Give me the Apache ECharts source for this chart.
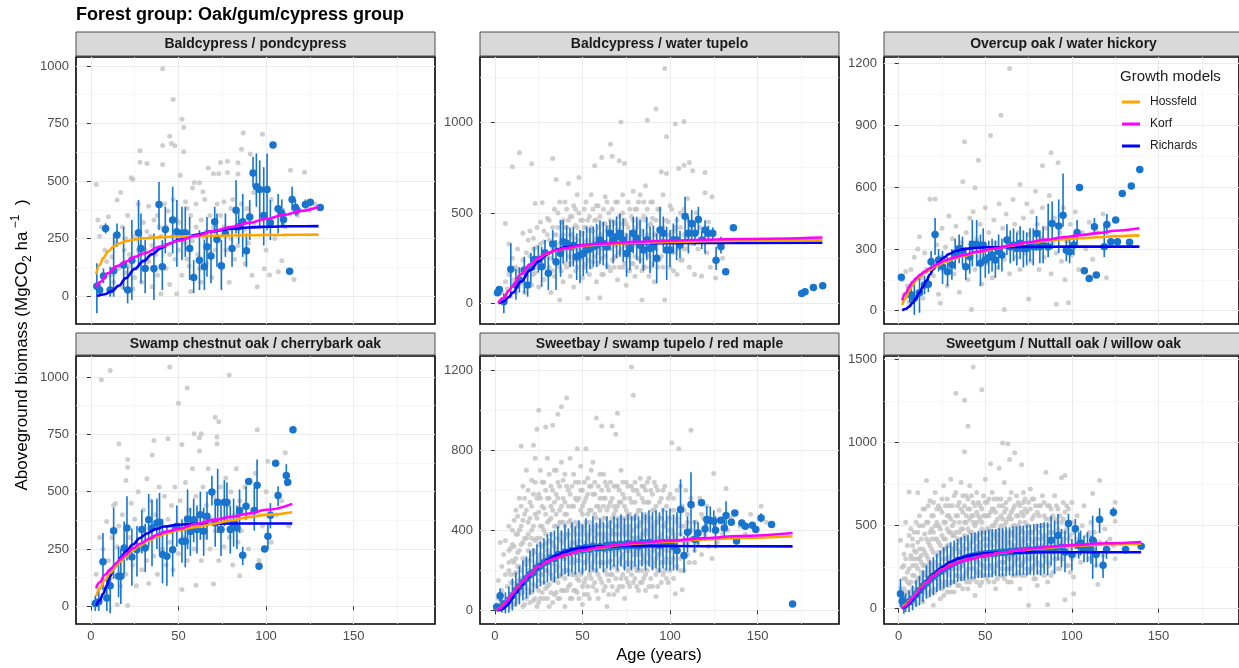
<!DOCTYPE html>
<html>
<head>
<meta charset="utf-8">
<title>Oak/gum/cypress group</title>
<script src="https://cdn.jsdelivr.net/npm/echarts@6/dist/echarts.min.js"></script>
<style>
  html, body { margin: 0; padding: 0; background: #fff; }
  #chart { width: 1239px; height: 668px; }
</style>
</head>
<body>
<div id="chart"></div>
<script>
// ---- data ----
const panelTitles = [
  'Baldcypress / pondcypress',
  'Baldcypress / water tupelo',
  'Overcup oak / water hickory',
  'Swamp chestnut oak / cherrybark oak',
  'Sweetbay / swamp tupelo / red maple',
  'Sweetgum / Nuttall oak / willow oak'
];
const modelNames = ['Hossfeld', 'Korf', 'Richards'];

const xRange = [-8.5, 196.5];
const xTicks = [0, 50, 100, 150];
const xMinor = [25, 75, 125, 175];

const yRange1 = [-121.6, 1039];  const yTicks1 = [0, 250, 500, 750, 1000]; const yMinor1 = [125, 375, 625, 875];
const yRange2 = [-114, 1362];    const yTicks2 = [0, 500, 1000];           const yMinor2 = [250, 750, 1250];
const yRange3 = [-64.5, 1232];   const yTicks3 = [0, 300, 600, 900, 1200]; const yMinor3 = [150, 450, 750, 1050];
const yRange4 = [-76.9, 1091.7]; const yTicks4 = [0, 250, 500, 750, 1000]; const yMinor4 = [125, 375, 625, 875];
const yRange5 = [-68, 1271.6];   const yTicks5 = [0, 400, 800, 1200];      const yMinor5 = [200, 600, 1000];
const yRange6 = [-92.3, 1521.7]; const yTicks6 = [0, 500, 1000, 1500];     const yMinor6 = [250, 750, 1250];

// individual plots [age, biomass]
const grey1 = [[3,485],[4,330],[5,260],[6,300],[8,200],[9,150],[10,345],[11,90],[12,170],[13,60],[14,235],[15,417],[16,120],[17,450],[18,40],[18,300],[19,200],[20,100],[21,350],[22,180],[23,514],[24,508],[24,30],[25,260],[26,120],[27,400],[28,582],[28,631],[29,60],[30,320],[31,200],[32,576],[33,150],[34,260],[35,40],[36,330],[37,180],[38,90],[39,300],[40,10],[41,988],[41,654],[41,572],[42,220],[43,120],[44,370],[45,695],[45,50],[46,663],[47,854],[47,260],[48,653],[48,160],[49,10],[50,320],[51,525],[52,768],[52,90],[53,627],[53,734],[54,230],[55,380],[56,130],[57,20],[58,470],[59,493],[60,300],[61,180],[62,492],[63,60],[64,453],[65,250],[66,140],[67,557],[68,350],[69,80],[70,532],[71,200],[72,400],[73,532],[74,580],[75,120],[76,300],[78,586],[78,537],[79,60],[80,250],[81,420],[82,160],[84,530],[84,579],[85,310],[86,638],[87,709],[88,140],[89,380],[90,230],[91,617],[92,90],[93,450],[95,40],[96,300],[98,703],[99,119],[100,200],[102,91],[103,420],[105,250],[107,106],[109,153],[111,300],[114,547],[116,72],[118,350],[122,538],[125,380],[128,400],
  [20,250],[22,130],[25,80],[27,200],[30,150],[32,280],[33,390],[35,220],[36,110],[38,350],[40,260],[42,400],[43,300],[45,180],[47,420],[49,330],[50,200],[52,280],[54,410],[55,160],[57,350],[58,240],[60,400],[62,120],[63,330],[65,420],[66,280],[68,190],[70,300],[72,260],[74,350],[76,410],[77,200],[80,380],[82,300],[84,220],[86,400],[88,290],[90,350],[93,310]];

const grey2 = [[4,60],[5,20],[6,120],[6,442],[7,80],[8,328],[8,160],[9,40],[10,755],[10,250],[11,130],[12,200],[12,60],[13,300],[14,832],[14,180],[15,110],[16,387],[16,240],[17,60],[18,280],[18,150],[19,350],[20,210],[21,772],[21,100],[22,300],[23,552],[23,170],[24,420],[25,250],[25,90],[26,330],[27,556],[27,200],[28,400],[28,130],[29,280],[30,470],[30,180],[31,350],[32,60],[32,250],[33,801],[33,420],[34,300],[34,150],[35,685],[35,380],[36,220],[36,500],[37,18],[37,330],[38,270],[38,450],[39,120],[39,380],[40,300],[40,560],[41,200],[41,420],[42,663],[42,330],[43,150],[43,480],[44,260],[44,380],[45,540],[45,90],[46,320],[46,430],[47,200],[47,600],[48,696],[48,350],[49,250],[49,460],[50,140],[50,390],[51,300],[51,520],[52,220],[52,420],[53,28],[53,350],[54,480],[54,160],[55,290],[55,600],[56,400],[56,230],[57,761],[57,340],[58,120],[58,460],[59,280],[59,540],[60,31],[60,380],[61,807],[61,250],[62,440],[62,160],[63,330],[63,590],[64,210],[64,400],[65,500],[65,300],[66,880],[66,180],[67,814],[67,360],[68,450],[68,250],[69,560],[69,320],[70,130],[70,410],[71,788],[71,280],[72,1002],[72,380],[73,200],[73,500],[74,773],[74,320],[75,440],[75,100],[76,260],[76,560],[77,360],[77,180],[78,480],[78,300],[79,220],[79,620],[80,400],[80,150],[81,330],[81,520],[82,250],[82,440],[83,380],[83,600],[84,18],[84,300],[85,480],[85,200],[86,350],[86,650],[87,1013],[87,270],[88,430],[88,150],[89,340],[89,560],[90,220],[90,470],[91,380],[91,120],[92,1074],[92,300],[93,520],[93,200],[94,400],[95,727],[95,260],[96,350],[96,600],[97,1298],[97,18],[98,921],[98,718],[98,300],[99,450],[100,200],[100,380],[101,520],[102,280],[103,991],[103,420],[104,160],[105,746],[105,330],[106,500],[107,240],[108,1006],[108,764],[108,380],[109,300],[110,580],[111,779],[111,200],[112,420],[113,733],[113,330],[114,160],[115,500],[116,300],[117,420],[118,150],[119,350],[120,724],[120,611],[121,280],[122,450],[123,200],[124,589],[125,380],[126,140],[128,320],[130,250]];
const grey2b = [[20,260],[20,400],[22,160],[22,360],[24,310],[24,200],[26,450],[26,260],[28,200],[28,340],[30,380],[30,260],[31,200],[31,460],[33,300],[33,180],[34,520],[34,380],[36,300],[36,420],[37,200],[37,560],[38,360],[38,180],[39,460],[39,300],[40,220],[40,420],[41,340],[41,520],[42,260],[42,460],[43,380],[43,220],[44,480],[44,300],[45,360],[45,240],[46,520],[46,180],[47,300],[47,420],[48,240],[48,500],[49,380],[49,300],[50,460],[50,260],[51,200],[51,420],[52,340],[52,560],[53,460],[53,240],[54,300],[54,400],[55,420],[55,200],[56,520],[56,330],[57,260],[57,460],[58,360],[58,540],[59,420],[59,220],[60,300],[60,480],[61,380],[61,160],[62,520],[62,300],[63,260],[63,440],[64,340],[64,560],[65,200],[65,420],[66,460],[66,300],[67,240],[67,520],[68,380],[68,200],[69,440],[69,260],[70,340],[70,560],[71,480],[71,200],[72,300],[72,440],[73,360],[73,600],[74,220],[74,460],[75,380],[75,280],[76,420],[76,180],[77,300],[77,520],[78,380],[78,220],[79,460],[79,320],[80,260],[80,520],[81,420],[81,200],[82,340],[82,560],[83,240],[83,460],[84,400],[84,180],[85,320],[85,560],[86,460],[86,200],[87,380],[87,520],[88,260],[88,360],[89,440],[89,200],[90,320],[90,560],[92,380],[92,460],[94,240],[94,520],[96,420],[96,200],[98,460],[98,380],[100,540],[100,300],[102,400],[102,180],[104,460],[104,300],[106,240],[106,420],[108,520],[108,300],[110,360],[110,460]];

const grey3 = [[2,150],[3,80],[4,190],[5,120],[6,40],[7,200],[8,130],[9,260],[10,90],[11,300],[12,359],[13,160],[14,60],[15,280],[16,200],[17,120],[18,541],[19,250],[20,170],[21,542],[22,320],[23,80],[24,36],[24,260],[25,400],[26,190],[27,310],[28,120],[29,460],[30,240],[31,350],[32,180],[33,410],[34,280],[35,90],[36,330],[37,626],[38,820],[38,220],[39,380],[40,150],[41,450],[42,6],[42,300],[43,480],[44,597],[44,200],[45,350],[46,731],[46,260],[47,420],[48,130],[49,320],[50,500],[51,230],[52,380],[53,851],[53,280],[54,160],[55,440],[56,330],[57,210],[58,520],[59,949],[59,300],[60,400],[61,6],[61,250],[62,470],[63,350],[64,1176],[64,180],[65,300],[66,540],[67,420],[68,260],[69,380],[70,613],[70,200],[71,330],[72,450],[73,280],[74,520],[75,57],[75,370],[76,240],[77,480],[78,310],[79,580],[80,420],[81,200],[82,350],[83,704],[83,500],[84,260],[85,400],[86,300],[87,560],[88,767],[88,180],[89,330],[90,450],[91,32],[91,280],[92,718],[93,380],[94,240],[95,500],[96,150],[97,340],[98,39],[99,420],[100,270],[102,480],[104,200],[106,380],[108,300],[110,430],[112,250],[115,380],[118,470],[120,160]];

const grey4 = [[3,140],[4,80],[5,300],[6,988],[7,250],[8,60],[9,370],[10,200],[11,1029],[11,120],[12,300],[13,440],[14,448],[14,180],[15,7],[15,260],[16,709],[16,350],[17,90],[18,400],[19,220],[20,549],[20,140],[21,640],[21,607],[21,4],[22,300],[23,450],[24,180],[25,380],[26,90],[27,500],[28,260],[29,160],[30,420],[31,340],[32,556],[32,200],[33,100],[34,460],[35,660],[35,300],[36,723],[36,220],[37,400],[38,140],[39,520],[40,320],[41,250],[42,480],[43,180],[44,731],[44,380],[45,1044],[45,280],[46,440],[47,160],[48,520],[49,350],[50,886],[50,230],[51,460],[52,706],[52,73],[53,300],[54,540],[55,952],[55,200],[56,420],[57,320],[58,600],[59,753],[59,250],[60,92],[60,480],[61,380],[62,677],[62,735],[63,753],[63,200],[64,520],[65,300],[66,440],[67,600],[68,250],[69,380],[70,97],[70,480],[71,825],[71,330],[72,738],[72,709],[73,805],[73,200],[74,520],[75,380],[76,260],[77,560],[78,440],[79,1009],[79,300],[80,500],[81,180],[82,400],[83,600],[84,280],[85,134],[85,460],[86,330],[88,520],[90,250],[92,420],[94,580],[95,770],[96,200],[98,350],[100,500],[101,633],[103,280],[106,400],[109,460],[111,670],[113,350]];

const grey5 = [[1,30],[2,150],[2,60],[3,340],[3,10],[4,220],[4,100],[5,280],[5,40],[6,180],[6,350],[7,120],[7,60],[8,300],[8,200],[9,20],[9,140],[10,250],[10,400],[10,80],
  [11,180],[11,320],[11,30],[12,500],[12,260],[12,120],[13,380],[13,60],[13,220],[14,560],[14,300],[14,150],[15,821],[15,200],[15,420],[15,90],[16,620],[16,340],[16,20],[17,250],[17,480],[17,140],[18,360],[18,700],[18,60],[19,200],[19,440],[19,300],[20,540],[20,100],[20,250],
  [21,400],[21,180],[21,650],[22,825],[22,300],[22,50],[23,480],[23,220],[23,760],[24,905],[24,360],[24,120],[25,1000],[25,580],[25,260],[25,40],[26,420],[26,700],[26,180],[27,320],[27,520],[27,90],[28,640],[28,260],[28,400],[29,917],[29,200],[29,480],[30,340],[30,560],[30,120],[30,760],
  [31,280],[31,450],[31,20],[32,620],[32,380],[32,180],[33,925],[33,500],[33,260],[34,700],[34,320],[34,80],[35,420],[35,580],[35,200],[36,980],[36,360],[36,140],[36,640],[37,500],[37,270],[37,60],[38,1018],[38,440],[38,180],[38,740],[39,340],[39,560],[39,100],[40,480],[40,260],[40,680],[40,20],
  [41,1062],[41,380],[41,200],[42,600],[42,300],[42,120],[43,450],[43,760],[43,240],[44,520],[44,340],[44,60],[45,680],[45,400],[45,180],[46,300],[46,560],[46,100],[47,808],[47,420],[47,250],[48,640],[48,350],[48,150],[49,500],[49,280],[49,720],[50,400],[50,200],[50,600],[50,30],
  [51,320],[51,540],[51,140],[52,808],[52,440],[52,240],[53,660],[53,360],[53,80],[54,500],[54,280],[54,180],[55,620],[55,400],[55,220],[56,740],[56,340],[56,120],[57,480],[57,260],[57,580],[58,962],[58,380],[58,200],[59,520],[59,300],[59,60],[60,680],[60,420],[60,160],
  [61,922],[61,340],[61,240],[62,560],[62,460],[62,100],[63,380],[63,640],[63,200],[64,500],[64,300],[64,20],[65,600],[65,420],[65,150],[66,340],[66,540],[66,250],[67,922],[67,460],[67,180],[68,620],[68,380],[68,80],[69,880],[69,500],[69,280],[70,985],[70,420],[70,200],[70,620],
  [71,340],[71,540],[71,120],[72,460],[72,260],[72,700],[73,400],[73,580],[73,180],[74,320],[74,520],[74,60],[75,640],[75,380],[75,240],[76,480],[76,300],[76,140],[77,560],[77,420],[77,220],[78,1217],[78,360],[78,620],[79,1075],[79,460],[79,280],[80,540],[80,340],[80,160],
  [81,420],[81,600],[81,200],[82,360],[82,500],[82,100],[83,660],[83,300],[83,240],[84,440],[84,560],[84,140],[85,380],[85,620],[85,260],[86,480],[86,320],[86,180],[87,540],[87,400],[88,660],[88,280],[88,120],[89,460],[89,340],[90,580],[90,220],[90,400],
  [91,500],[91,300],[92,70],[92,440],[92,620],[93,360],[93,200],[94,540],[94,280],[95,460],[95,380],[95,140],[96,600],[96,320],[97,420],[97,240],[98,520],[98,160],[99,360],[99,460],[100,300],[100,580],[100,200],
  [101,838],[101,400],[102,260],[102,500],[103,83],[103,360],[104,440],[104,600],[105,808],[105,300],[106,380],[106,200],[107,520],[107,103],[108,420],[108,280],[109,600],[110,340],[110,480],[111,240],[112,900],[112,400],[113,520],[114,300],[115,440],[116,360],[117,560],[118,280],[119,460],[120,380],
  [121,520],[122,320],[123,440],[124,260],[125,684],[126,400],[127,340],[128,500],[129,440],[130,380],[132,609],[133,400],[135,460],[137,360],[140,420],[143,380],[146,480],[149,400],[152,521],[155,440]];
const grey5b = [[8,60],[8,240],[8,420],[9,310],[9,180],[10,140],[10,330],[10,30],[11,240],[11,450],[11,90],[12,40],[12,380],[12,190],[13,290],[13,470],[13,130],[14,220],[14,80],[14,400],[15,330],[15,160],[15,520],[16,90],[16,260],[16,450],[17,360],[17,30],[17,560],[18,230],[18,500],[18,110],[19,80],[19,380],[19,250],[19,600],[20,330],[20,170],[20,460],[20,40],
  [21,280],[21,520],[21,90],[21,360],[22,200],[22,420],[22,130],[22,580],[23,350],[23,60],[23,290],[23,640],[24,240],[24,460],[24,20],[24,560],[25,330],[25,150],[25,490],[25,100],[26,280],[26,560],[26,60],[26,360],[27,180],[27,420],[27,640],[27,250],[28,330],[28,140],[28,510],[28,60],[29,380],[29,270],[29,600],[29,110],[30,200],[30,440],[30,60],[30,300],
  [31,350],[31,560],[31,130],[31,680],[32,260],[32,460],[32,90],[32,520],[33,340],[33,150],[33,600],[33,40],[34,420],[34,230],[34,540],[34,160],[35,310],[35,480],[35,90],[35,700],[36,220],[36,420],[36,560],[36,60],[37,350],[37,170],[37,620],[37,440],[38,280],[38,520],[38,100],[38,380],[39,440],[39,200],[39,650],[39,260],[40,360],[40,160],[40,540],[40,420],
  [41,280],[41,480],[41,100],[41,620],[42,380],[42,200],[42,520],[42,440],[43,320],[43,580],[43,130],[43,60],[44,420],[44,260],[44,620],[44,180],[45,340],[45,520],[45,100],[45,240],[46,440],[46,180],[46,640],[46,380],[47,330],[47,550],[47,90],[47,160],[48,430],[48,250],[48,560],[48,60],[49,380],[49,180],[49,600],[49,420],[50,300],[50,480],[50,120],[50,520],
  [51,420],[51,240],[51,640],[51,80],[52,340],[52,560],[52,160],[52,380],[53,260],[53,480],[53,120],[53,580],[54,380],[54,620],[54,60],[54,440],[55,300],[55,500],[55,160],[55,700],[56,420],[56,240],[56,580],[56,200],[57,360],[57,140],[57,640],[57,400],[58,280],[58,520],[58,100],[58,460],[59,420],[59,180],[59,620],[59,380],[60,320],[60,500],[60,240],[60,560],
  [61,440],[61,140],[61,600],[61,380],[62,360],[62,240],[62,520],[62,680],[63,300],[63,460],[63,120],[63,560],[64,420],[64,180],[64,620],[64,360],[65,340],[65,520],[65,240],[65,80],[66,440],[66,180],[66,640],[66,380],[67,300],[67,560],[67,120],[67,400],[68,480],[68,220],[68,520],[68,320],[69,380],[69,160],[69,620],[69,420],[70,300],[70,520],[70,100],[70,460],
  [71,420],[71,240],[71,600],[71,380],[72,340],[72,540],[72,160],[72,440],[73,280],[73,460],[73,640],[73,120],[74,420],[74,220],[74,560],[74,380],[75,300],[75,500],[75,160],[75,460],[76,400],[76,200],[76,620],[76,340],[77,300],[77,480],[77,120],[77,380],[78,460],[78,240],[78,540],[78,180],[79,360],[79,600],[79,140],[79,400],[80,300],[80,460],[80,220],[80,640],
  [81,480],[81,280],[81,120],[81,360],[82,420],[82,580],[82,200],[82,300],[83,360],[83,500],[83,140],[83,440],[84,280],[84,620],[84,200],[84,380],[85,460],[85,160],[85,540],[85,320],[86,400],[86,600],[86,240],[86,100],[87,300],[87,460],[87,200],[87,640],[88,380],[88,540],[88,240],[88,440],[89,260],[89,600],[89,160],[89,420],[90,360],[90,500],[90,120],[90,300],
  [91,420],[91,240],[91,640],[91,380],[92,320],[92,520],[92,180],[92,260],[93,440],[93,600],[93,280],[93,120],[94,360],[94,460],[94,200],[95,300],[95,560],[95,240],[96,420],[96,180],[96,500],[97,340],[97,620],[97,200],[98,300],[98,440],[98,260],[99,400],[99,560],[99,140],[100,340],[100,460],[100,240],
  [102,380],[102,160],[102,560],[104,300],[104,460],[104,220],[106,420],[106,260],[106,620],[108,340],[108,500],[108,200],[110,440],[110,280],[112,360],[112,560],[114,240],[114,440],[116,340],[118,480]];

const grey6 = [[1,412],[1,120],[2,250],[2,40],[3,180],[3,330],[4,90],[4,520],[5,220],[5,20],[6,702],[6,150],[7,300],[7,60],[8,420],[8,200],[9,100],[9,350],[10,260],[10,30],
  [11,698],[11,180],[11,400],[12,80],[12,300],[12,500],[13,220],[13,140],[14,600],[14,360],[14,40],[15,260],[15,450],[15,120],[16,772],[16,320],[16,200],[17,520],[17,80],[17,400],[18,280],[18,650],[18,160],[19,360],[19,480],[19,100],[20,240],[20,560],[20,20],
  [21,420],[21,180],[21,700],[22,320],[22,520],[22,120],[23,260],[23,620],[23,400],[24,160],[24,480],[24,60],[25,340],[25,580],[25,220],[26,740],[26,420],[26,140],[27,300],[27,520],[27,240],[28,660],[28,380],[28,100],[29,460],[29,200],[29,560],[30,320],[30,780],[30,160],
  [31,440],[31,260],[31,620],[32,360],[32,520],[32,100],[33,1297],[33,280],[33,700],[34,420],[34,200],[34,560],[35,340],[35,640],[35,140],[36,480],[36,260],[36,760],[37,380],[37,180],[37,580],[38,1255],[38,945],[38,440],[38,300],[39,520],[39,220],[39,680],[40,1098],[40,360],[40,120],[40,600],
  [41,460],[41,280],[41,740],[42,400],[42,180],[42,560],[43,1456],[43,320],[43,640],[44,500],[44,240],[44,80],[45,420],[45,700],[45,300],[46,560],[46,200],[46,380],[47,460],[47,620],[47,140],[48,1319],[48,340],[48,520],[49,260],[49,680],[49,420],[50,380],[50,560],[50,200],[50,780],
  [51,300],[51,480],[51,640],[52,420],[52,160],[52,560],[53,873],[53,340],[53,260],[54,500],[54,700],[54,380],[55,220],[55,600],[55,440],[56,320],[56,520],[56,120],[57,660],[57,400],[57,260],[58,846],[58,480],[58,340],[59,560],[59,200],[59,420],[60,997],[60,360],[60,620],[60,280],
  [61,440],[61,760],[61,180],[62,520],[62,320],[62,640],[63,991],[63,400],[63,240],[64,899],[64,560],[64,300],[65,460],[65,700],[65,160],[66,380],[66,600],[66,260],[67,939],[67,500],[67,340],[68,420],[68,680],[68,200],[69,560],[69,300],[69,440],[70,380],[70,620],[70,120],
  [71,867],[71,480],[71,260],[72,560],[72,340],[72,700],[73,420],[73,200],[73,600],[74,500],[74,300],[75,20],[75,640],[75,380],[76,460],[76,240],[76,720],[77,540],[77,320],[78,400],[78,660],[78,180],[79,480],[79,300],[80,580],[80,420],[80,140],
  [81,360],[81,620],[82,500],[82,260],[83,440],[83,680],[84,320],[84,560],[85,400],[85,822],[86,24],[86,500],[86,280],[87,620],[87,380],[88,460],[88,200],[89,560],[89,340],[90,420],[90,680],
  [91,300],[91,520],[92,380],[92,600],[93,460],[93,240],[94,788],[94,400],[95,540],[95,300],[96,802],[96,54],[96,460],[97,360],[97,620],[98,420],[98,260],[99,520],[100,380],[100,640],
  [101,90],[101,191],[101,460],[102,320],[103,560],[104,400],[105,280],[106,500],[107,620],[108,360],[109,440],[110,300],[111,520],[112,694],[112,380],[113,460],[114,260],[115,145],[115,540],[116,772],[116,400],[118,320],[119,480],[120,360],[122,420],[124,380],[125,641],[125,527],[125,300]];
const grey6b = [[3,120],[3,60],[3,260],[4,180],[4,300],[4,40],[5,100],[5,380],[5,160],[6,240],[6,60],[6,440],[7,160],[7,320],[7,100],[7,480],[8,260],[8,120],[8,380],[8,40],[9,200],[9,460],[9,300],[9,80],[10,160],[10,340],[10,520],[10,100],
  [11,240],[11,80],[11,460],[11,300],[12,360],[12,180],[12,560],[12,120],[13,280],[13,420],[13,60],[13,320],[14,200],[14,500],[14,160],[14,260],[15,340],[15,100],[15,600],[15,220],[16,420],[16,260],[16,140],[16,520],[17,300],[17,180],[17,620],[17,240],[18,380],[18,100],[18,460],[18,220],[19,260],[19,560],[19,160],[19,420],[20,340],[20,120],[20,460],[20,640],
  [21,280],[21,500],[21,220],[21,100],[22,420],[22,200],[22,600],[22,260],[23,340],[23,140],[23,500],[23,180],[24,260],[24,600],[24,380],[24,220],[25,440],[25,120],[25,300],[25,660],[26,360],[26,240],[26,520],[26,80],[27,420],[27,160],[27,620],[27,360],[28,300],[28,480],[28,220],[28,560],[29,380],[29,140],[29,620],[29,300],[30,460],[30,240],[30,540],[30,100],
  [31,360],[31,160],[31,500],[31,340],[32,440],[32,240],[32,680],[32,160],[33,380],[33,560],[33,200],[33,460],[34,300],[34,620],[34,140],[34,360],[35,460],[35,240],[35,520],[35,400],[36,340],[36,180],[36,600],[36,420],[37,480],[37,260],[37,680],[37,120],[38,360],[38,520],[38,200],[38,620],[39,420],[39,300],[39,160],[39,560],[40,480],[40,240],[40,660],[40,320],
  [41,380],[41,540],[41,160],[41,600],[42,300],[42,460],[42,240],[42,680],[43,420],[43,180],[43,520],[43,560],[44,360],[44,620],[44,300],[44,440],[45,520],[45,220],[45,580],[45,160],[46,440],[46,280],[46,640],[46,320],[47,360],[47,540],[47,220],[47,400],[48,480],[48,160],[48,600],[48,260],[49,340],[49,560],[49,200],[49,460],[50,460],[50,300],[50,640],[50,240],
  [51,380],[51,560],[51,180],[51,420],[52,480],[52,260],[52,660],[52,340],[53,400],[53,580],[53,200],[53,460],[54,320],[54,600],[54,240],[54,440],[55,500],[55,340],[55,660],[55,160],[56,420],[56,260],[56,580],[56,460],[57,340],[57,540],[57,180],[57,440],[58,440],[58,280],[58,620],[58,380],[59,360],[59,500],[59,240],[59,660],[60,460],[60,200],[60,540],[60,400],
  [61,340],[61,580],[61,280],[61,500],[62,420],[62,240],[62,600],[62,380],[63,340],[63,540],[63,160],[63,460],[64,440],[64,300],[64,660],[64,400],[65,360],[65,540],[65,240],[65,580],[66,460],[66,200],[66,500],[66,320],[67,380],[67,620],[67,280],[67,440],[68,480],[68,300],[68,560],[68,360],[69,400],[69,640],[69,220],[69,500],[70,340],[70,520],[70,260],[70,460],
  [71,420],[71,580],[71,200],[71,340],[72,460],[72,280],[72,640],[72,400],[73,360],[73,520],[73,300],[73,660],[74,440],[74,240],[74,580],[74,380],[75,340],[75,500],[75,220],[75,460],[76,420],[76,600],[76,300],[77,460],[77,240],[77,660],[78,340],[78,560],[78,260],[79,420],[79,620],[79,180],[80,380],[80,500],[80,280],
  [81,460],[81,220],[81,560],[82,340],[82,420],[82,620],[83,500],[83,260],[83,380],[84,420],[84,640],[84,200],[85,300],[85,540],[85,440],[86,380],[86,620],[86,160],[87,460],[87,260],[87,540],[88,340],[88,600],[88,400],[89,460],[89,220],[90,300],[90,540],[91,400],[91,620],[92,480],[92,240],[93,360],[93,560],[94,520],[94,300],[95,420],[95,640],[96,340],[96,580],[97,480],[97,260],[98,360],[98,600],[99,440],[99,220],[100,520],[100,300],[103,420],[106,360],[110,460]];

// age-class means [age, mean, low, high]
const mean1 = [[3.4,43,-75,142],[5,26,0,55],[7.2,87,55,120],[8.4,294,272,316],[11,26,-3,127],[13,110,-3,272],[14.9,265,214,315],[18.7,135,26,301],[21,26,-32,127],[23.4,156,-17,330],[27.2,275,127,417],[28.6,207,55,359],[31,120,12,243],[36,120,-17,272],[38.9,398,287,496],[40.8,127,26,243],[42.5,289,185,388],[46.7,330,185,475],[49.1,279,127,417],[52,272,156,388],[53.9,275,170,388],[56.4,207,70,344],[58.7,80,12,156],[62,156,26,286],[64.8,127,26,243],[66.3,214,84,344],[68.6,174,55,286],[70.7,323,272,388],[72,246,127,359],[74.5,132,26,243],[76.8,272,170,359],[80.6,207,127,286],[82.9,373,272,503],[84.4,301,228,373],[86.7,323,170,444],[88.8,197,127,272],[90.7,344,243,417],[92.6,535,475,605],[94.5,475,388,620],[96.4,463,301,590],[98.7,350,220,560],[100.6,463,286,620],[102.5,318,243,417],[104,656,656,656],[106.9,379,272,444],[109,359,300,420],[110,333,300,380],[113.5,108,108,108],[114.9,420,373,475],[116.8,385,350,420],[117.7,373,350,400],[122.5,398,380,420],[125.3,408,395,420],[131,385,385,385]];

const mean2 = [[1.5,59,59,59],[2.5,77,77,77],[5.1,9,-55,55],[9.1,188,37,332],[12,100,20,190],[14,130,60,200],[16.8,184,55,258],[18.7,101,37,166],[20.5,200,110,280],[22.5,243,184,313],[24.8,243,170,320],[26.7,202,92,313],[28.6,280,203,350],[30.5,166,74,258],[33,328,240,405],[34.9,230,74,350],[37.5,276,147,460],[39,341,221,460],[41,331,230,430],[42.9,313,200,420],[44.8,322,203,424],[46.7,258,129,387],[48.6,267,111,405],[50.5,276,150,400],[52.4,295,166,424],[54.3,304,190,420],[56.2,313,203,424],[58.1,322,200,440],[60,350,221,460],[61.9,331,210,450],[63.8,313,190,430],[65.7,387,295,460],[67.6,350,221,460],[69.5,368,250,480],[71.4,387,258,497],[73.3,350,230,470],[75.2,276,147,387],[77.1,304,184,405],[79,387,276,479],[81,359,239,479],[82.9,322,221,460],[84.8,295,180,410],[86.7,350,239,479],[88.6,304,166,424],[90.5,313,200,430],[92.4,249,111,387],[94.3,405,331,534],[96.2,387,280,480],[98.1,295,129,424],[100,295,203,405],[101.9,350,276,442],[103.8,350,239,479],[105.7,322,250,400],[108.6,482,350,590],[110.5,387,276,479],[112.4,442,350,516],[114.3,387,320,450],[116.2,464,387,534],[118.1,350,300,400],[120,405,276,460],[121.9,387,340,430],[124.4,387,350,420],[126.3,239,184,313],[129.1,313,276,368],[131.8,175,175,175],[136.2,418,418,418],[175.2,55,55,55],[177.1,64,64,64],[181.9,88,88,88],[187.2,98,98,98]];

const mean3 = [[1.5,162,162,162],[6.3,80,40,130],[7.2,76,30,120],[9,60,-20,140],[12,87,-10,180],[14.9,125,80,170],[17.1,129,90,170],[18.7,238,180,290],[21,370,270,450],[23,246,190,300],[25.3,213,130,290],[28.2,189,120,260],[30.7,222,150,300],[32.6,278,200,350],[34.9,302,230,370],[36.8,291,220,360],[38.7,213,150,310],[41,262,180,340],[42.5,323,215,440],[45,323,215,440],[47.2,230,120,370],[48.8,319,240,400],[50,246,160,330],[52,259,180,340],[53.9,270,190,350],[55.8,246,160,340],[57.7,286,200,370],[59.6,270,190,350],[62.5,343,270,420],[64.4,311,230,390],[66.3,319,240,400],[68.2,302,220,380],[70.1,327,250,410],[72,302,210,390],[73.9,302,220,380],[75.8,319,240,400],[77.7,311,220,400],[79.6,375,290,460],[81.5,311,230,390],[83.4,319,230,410],[86.3,311,260,520],[88.6,424,300,530],[92.4,411,280,540],[94.9,464,408,666],[96.8,294,240,350],[98.7,286,230,350],[101.1,319,270,370],[103,380,320,440],[104.4,598,598,598],[107.2,194,194,194],[110,157,157,157],[113,408,370,450],[114.1,173,173,173],[118.7,311,260,420],[120.2,419,370,470],[122.5,335,335,335],[125.3,440,440,440],[126.3,335,335,335],[129.1,569,569,569],[133.3,332,332,332],[134.3,606,606,606],[139.2,686,686,686]];

const mean4 = [[2.5,12,-20,45],[4.5,20,-20,70],[6.9,194,70,320],[9.1,36,-20,120],[11,90,-30,170],[13,330,120,430],[15.8,131,40,260],[17.1,131,10,250],[19,255,140,370],[20.6,342,200,480],[23.4,215,90,340],[26.3,247,130,350],[29.1,335,230,420],[31,255,150,360],[33,378,260,490],[34.9,342,175,465],[37.7,364,250,470],[39.2,367,233,495],[40.9,226,100,380],[43.4,218,90,350],[46.7,247,130,350],[49.1,349,260,440],[52,284,190,380],[53.9,284,170,390],[55.2,381,250,510],[56.8,327,220,430],[58.7,378,280,470],[60.6,335,230,440],[62.5,400,290,500],[64.4,327,220,430],[66.3,393,290,500],[69.1,499,440,570],[71,364,260,470],[72.4,454,320,600],[74.3,335,220,450],[76.2,454,350,550],[77.7,454,363,540],[79.6,335,230,440],[81.5,364,260,470],[83.4,342,250,440],[84.9,418,320,510],[86.7,223,180,260],[88.6,437,378,524],[90.1,544,544,544],[93.3,418,330,520],[94.9,528,407,640],[96,175,175,175],[99.2,250,250,250],[101.1,306,250,360],[102.5,397,340,450],[105.5,624,624,624],[106.9,483,436,524],[111.6,571,524,620],[112.4,541,541,541],[115.4,770,770,770]];

const mean5 = [[1,17,17,17],[3,73,40,110],[4,20,-10,60],[6,35,-15,90],[8,50,-10,120],[10,75,0,160],[12,100,20,190],[14,118,30,220],[16,140,50,250],[18,160,60,270],[20,178,80,300],[22,190,90,310],[24,212,110,330],[26,222,120,345],[28,238,130,360],[30,246,140,380],[32,262,150,390],[34,260,140,400],[36,280,160,420],[38,278,170,400],[40,292,180,430],[42,288,170,410],[44,300,190,440],[46,296,180,420],[48,310,190,450],[50,302,180,430],[52,315,200,460],[54,306,190,430],[56,320,200,470],[58,312,190,440],[60,318,210,460],[62,312,190,440],[64,326,210,470],[66,316,200,450],[68,328,220,470],[70,318,200,460],[72,330,220,480],[74,322,200,460],[76,334,220,480],[78,325,200,470],[80,332,220,480],[82,322,200,470],[84,338,220,490],[86,328,200,480],[88,340,220,500],[90,330,200,490],[92,336,210,500],[94,326,190,490],[96,340,210,510],[98,332,200,500],[100,338,200,510],[102,320,200,480],[104,299,200,490],[106,504,370,655],[108,274,190,370],[110,391,290,470],[112,529,385,690],[114,354,290,450],[116,387,330,440],[118,538,538,538],[120,407,350,470],[121,454,400,520],[123,449,390,520],[125,446,400,500],[126,401,310,470],[129,451,451,451],[131,412,370,455],[132,474,420,545],[135,441,441,441],[137,487,487,487],[138,347,330,365],[141,437,437,437],[143,421,421,421],[147,426,426,426],[149,404,404,404],[152,462,440,485],[158,429,429,429],[170,32,32,32]];

const mean6 = [[1,90,10,180],[2,45,0,100],[3,20,-30,80],[4,30,-20,90],[6,40,-20,110],[8,60,-10,140],[10,85,10,170],[12,110,20,200],[14,135,40,230],[16,155,60,260],[18,178,70,290],[20,196,80,310],[22,212,100,330],[24,226,110,350],[26,242,120,370],[28,254,130,380],[30,268,140,400],[32,276,150,410],[34,288,160,420],[36,294,165,430],[38,304,170,440],[40,308,175,445],[42,316,180,455],[44,318,180,460],[46,324,185,465],[48,326,185,470],[50,330,190,470],[52,332,190,475],[54,334,190,480],[56,336,195,480],[58,338,195,485],[60,340,195,485],[62,340,195,490],[64,344,200,490],[66,342,195,495],[68,348,200,495],[70,346,200,500],[72,350,205,500],[74,348,200,505],[76,354,205,505],[78,352,200,510],[80,356,205,510],[82,354,200,515],[84,360,210,520],[86,356,200,520],[88,412,260,560],[90,362,210,530],[92,440,290,570],[94,370,250,480],[96,340,220,470],[98,513,380,570],[100,326,230,420],[102,481,360,540],[104,380,300,460],[105,396,320,470],[107,356,280,440],[109,370,280,460],[111,356,270,440],[112,412,180,560],[114,326,250,420],[116,537,455,605],[118,261,185,330],[120,356,300,410],[124,581,555,610],[131,356,330,375],[140,376,376,376]];

// fitted curves [age, biomass]
const hoss1 = [[3,95],[5,135],[7,165],[10,195],[13,215],[16,228],[20,238],[25,246],[30,251],[40,256],[50,259],[70,262],[90,264],[110,266],[130,267]];
const korf1 = [[3,40],[5,60],[10,100],[15,130],[20,150],[25,170],[30,185],[40,215],[50,240],[60,262],[70,282],[80,300],[90,318],[100,335],[110,352],[120,370],[130,388]];
const rich1 = [[3.5,0],[8,8],[12,22],[16,45],[20,78],[25,118],[30,152],[35,182],[40,208],[45,228],[50,244],[60,266],[70,282],[80,292],[90,298],[100,301],[115,303],[130,304]];

const hoss2 = [[2,5],[5,30],[8,70],[10,95],[15,160],[20,212],[25,250],[30,276],[35,292],[40,303],[50,318],[60,326],[80,334],[100,340],[140,347],[187,352]];
const korf2 = [[2,3],[5,30],[8,70],[10,95],[15,162],[20,214],[25,252],[30,278],[35,294],[40,305],[50,320],[60,330],[80,340],[100,347],[140,356],[187,364]];
const rich2 = [[2,0],[5,10],[8,35],[10,58],[15,120],[20,182],[25,232],[30,272],[35,296],[40,310],[50,322],[60,328],[80,332],[120,334],[187,335]];

const hoss3 = [[2,27],[4,60],[6,97],[8,125],[10,148],[12,165],[15,183],[18,198],[22,218],[27,238],[32,253],[37,265],[45,283],[55,300],[65,316],[75,330],[85,339],[95,347],[105,352],[115,357],[125,362],[139,366]];
const korf3 = [[2,50],[4,85],[6,115],[8,140],[10,157],[12,172],[15,190],[18,206],[22,225],[27,245],[32,258],[37,270],[45,286],[55,301],[65,318],[75,333],[85,345],[95,357],[105,367],[115,377],[125,388],[139,400]];
const rich3 = [[2,2],[4,8],[6,20],[8,38],[10,60],[12,88],[14,117],[16,146],[18,176],[20,202],[23,235],[26,258],[29,275],[33,290],[37,298],[42,304],[50,308],[70,310],[100,311],[139,311]];

const hoss4 = [[3,44],[5,76],[8,115],[11,146],[14,173],[17,197],[20,218],[24,245],[28,266],[33,287],[38,305],[43,318],[50,332],[60,346],[70,360],[80,375],[90,389],[100,399],[115,410]];
const korf4 = [[3,80],[5,105],[8,138],[11,160],[14,185],[17,207],[20,227],[24,253],[28,273],[33,294],[38,312],[43,326],[50,338],[60,359],[70,377],[80,390],[90,405],[100,421],[115,447]];
const rich4 = [[3,3],[5,25],[7,55],[9,90],[11,131],[13,165],[15,190],[17,213],[20,240],[24,270],[28,298],[32,318],[37,337],[42,348],[50,356],[60,360],[80,361],[115,361]];

const hoss5 = [[1,0],[3,12],[5,28],[7,50],[10,84],[13,115],[16,145],[20,180],[25,218],[30,245],[35,262],[40,276],[50,298],[60,314],[70,326],[80,334],[100,344],[120,354],[140,362],[170,371]];
const korf5 = [[1,0],[3,10],[5,26],[7,48],[10,82],[13,114],[16,145],[20,180],[25,218],[30,245],[35,262],[40,277],[50,300],[60,316],[70,328],[80,337],[100,349],[120,361],[140,372],[170,387]];
const rich5 = [[1,0],[3,2],[5,10],[7,25],[9,50],[12,90],[15,125],[18,157],[21,185],[24,210],[27,232],[30,252],[35,275],[40,293],[45,306],[50,314],[60,320],[80,323],[120,321],[170,320]];

const hoss6 = [[2,10],[4,25],[6,45],[8,68],[10,92],[13,128],[16,160],[20,198],[25,236],[30,262],[35,284],[40,298],[50,320],[60,337],[70,352],[80,362],[90,370],[100,378],[120,387],[140,392]];
const korf6 = [[2,2],[4,18],[6,40],[8,65],[10,90],[13,126],[16,158],[20,196],[25,234],[30,260],[35,282],[40,297],[50,320],[60,338],[70,354],[80,365],[90,374],[100,383],[120,394],[140,402]];
const rich6 = [[2,0],[4,10],[6,30],[8,55],[10,82],[13,123],[16,163],[20,206],[25,248],[30,283],[35,303],[40,318],[45,328],[50,334],[60,338],[80,340],[140,340]];

// ---- layout ----
const FONT = "'Liberation Sans', Arial, sans-serif";
const colLeft = [76, 480, 884];
const rowTop = [57, 356];
const rowHeight = [267, 268];
const stripTop = [32, 333];
const panelW = 359;
const blue = '#1874CD';
const modelColors = { Hossfeld: '#FFA500', Korf: '#FF00FF', Richards: '#0000FF' };

const panels = [
  { grey: grey1, mean: mean1, curves: [rich1, hoss1, korf1], yRange: yRange1, yTicks: yTicks1, yMinor: yMinor1 },
  { grey: grey2.concat(grey2b), mean: mean2, curves: [rich2, hoss2, korf2], yRange: yRange2, yTicks: yTicks2, yMinor: yMinor2 },
  { grey: grey3, mean: mean3, curves: [rich3, hoss3, korf3], yRange: yRange3, yTicks: yTicks3, yMinor: yMinor3 },
  { grey: grey4, mean: mean4, curves: [rich4, hoss4, korf4], yRange: yRange4, yTicks: yTicks4, yMinor: yMinor4 },
  { grey: grey5.concat(grey5b), mean: mean5, curves: [rich5, hoss5, korf5], yRange: yRange5, yTicks: yTicks5, yMinor: yMinor5 },
  { grey: grey6.concat(grey6b), mean: mean6, curves: [rich6, hoss6, korf6], yRange: yRange6, yTicks: yTicks6, yMinor: yMinor6 }
];
const curveOrder = ['Richards', 'Hossfeld', 'Korf'];

function errorBar(params, api) {
  const lo = api.coord([api.value(0), api.value(2)]);
  const hi = api.coord([api.value(0), api.value(3)]);
  return {
    type: 'line',
    shape: { x1: lo[0], y1: lo[1], x2: hi[0], y2: hi[1] },
    style: { stroke: blue, lineWidth: 1.6 }
  };
}
const plain = v => String(v);

const grids = [], xAxes = [], yAxes = [], series = [], graphics = [];
const major = { color: '#EBEBEB', width: 1.1, type: 'solid' };
const minor = { color: '#F2F2F2', width: 0.7, type: 'solid' };

panels.forEach(function (p, i) {
  const col = i % 3, row = Math.floor(i / 3);
  const bottom = row === 1;
  grids.push({
    left: colLeft[col], top: rowTop[row], width: panelW, height: rowHeight[row],
    show: true, borderColor: '#000', borderWidth: 1.6, backgroundColor: 'transparent'
  });
  xAxes.push({
    gridIndex: i, type: 'value', min: xRange[0], max: xRange[1],
    axisLine: { show: false }, splitLine: { show: false },
    axisTick: { show: bottom, customValues: xTicks, length: 4, lineStyle: { color: '#333' } },
    axisLabel: { show: bottom, customValues: xTicks, formatter: plain, color: '#4D4D4D', fontSize: 13, margin: 6, fontFamily: FONT }
  });
  yAxes.push({
    gridIndex: i, type: 'value', min: p.yRange[0], max: p.yRange[1],
    axisLine: { show: false }, splitLine: { show: false },
    axisTick: { show: true, customValues: p.yTicks, length: 4, lineStyle: { color: '#333' } },
    axisLabel: { customValues: p.yTicks, formatter: plain, color: '#4D4D4D', fontSize: 13, margin: 7, fontFamily: FONT }
  });

  const gridLines = [];
  xMinor.forEach(v => gridLines.push({ xAxis: v, lineStyle: minor }));
  p.yMinor.forEach(v => gridLines.push({ yAxis: v, lineStyle: minor }));
  xTicks.forEach(v => gridLines.push({ xAxis: v, lineStyle: major }));
  p.yTicks.forEach(v => gridLines.push({ yAxis: v, lineStyle: major }));

  series.push({
    type: 'scatter', xAxisIndex: i, yAxisIndex: i, data: p.grey, silent: true, z: 1,
    symbolSize: 5, itemStyle: { color: '#C2C2C2', opacity: 0.8 },
    markLine: { z: 0, silent: true, symbol: 'none', label: { show: false }, animation: false, data: gridLines }
  });
  series.push({
    type: 'custom', xAxisIndex: i, yAxisIndex: i, data: p.mean, silent: true, z: 2,
    encode: { x: 0, y: [1, 2, 3] }, renderItem: errorBar
  });
  series.push({
    type: 'scatter', xAxisIndex: i, yAxisIndex: i, silent: true, z: 3,
    data: p.mean.map(d => [d[0], d[1]]),
    symbolSize: 7.5, itemStyle: { color: blue, opacity: 1 }
  });
  p.curves.forEach(function (c, k) {
    const name = curveOrder[k];
    series.push({
      type: 'line', name: name, xAxisIndex: i, yAxisIndex: i, data: c, z: 4 + k,
      showSymbol: false, smooth: 0.4, smoothMonotone: 'x', silent: true,
      color: modelColors[name], lineStyle: { color: modelColors[name], width: 2.6 }
    });
  });

  graphics.push({
    type: 'rect', silent: true,
    shape: { x: colLeft[col], y: stripTop[row], width: panelW, height: rowTop[row] - stripTop[row] - 1 },
    style: { fill: '#D9D9D9', stroke: '#4D4D4D', lineWidth: 1 }
  });
  graphics.push({
    type: 'text', silent: true,
    x: colLeft[col] + panelW / 2, y: stripTop[row] + (rowTop[row] - stripTop[row] - 1) / 2 + 0.5,
    style: { text: panelTitles[i], fontFamily: FONT, fontSize: 14, fontWeight: 'bold', fill: '#1A1A1A', align: 'center', verticalAlign: 'middle' }
  });
});

graphics.push({
  type: 'text', silent: true, x: 22, y: 345, rotation: Math.PI / 2,
  style: {
    text: '{a|Aboveground biomass (MgCO}{s|2}{a| ha}{p| −1}{a|  )}',
    align: 'center', verticalAlign: 'middle', fill: '#000',
    rich: {
      a: { fontFamily: FONT, fontSize: 17, lineHeight: 24, fill: '#000' },
      s: { fontFamily: FONT, fontSize: 12, lineHeight: 24, verticalAlign: 'bottom', fill: '#000' },
      p: { fontFamily: FONT, fontSize: 12, lineHeight: 24, verticalAlign: 'top', fill: '#000' }
    }
  }
});
graphics.push({
  type: 'text', silent: true, x: 659, y: 655,
  style: { text: 'Age (years)', fontFamily: FONT, fontSize: 16.5, fill: '#000', align: 'center', verticalAlign: 'middle' }
});

const chart = echarts.init(document.getElementById('chart'), null, { renderer: 'canvas' });
chart.setOption({
  animation: false,
  backgroundColor: '#fff',
  textStyle: { fontFamily: FONT },
  title: [
    { text: 'Forest group: Oak/gum/cypress group', left: 76, top: 6, padding: 0,
      textStyle: { fontFamily: FONT, fontSize: 18, fontWeight: 'bold', color: '#000' } },
    { text: 'Growth models', left: 1120, top: 69, padding: 0,
      textStyle: { fontFamily: FONT, fontSize: 15, fontWeight: 'normal', color: '#1A1A1A' } }
  ],
  legend: {
    data: modelNames, orient: 'vertical', left: 1122, top: 95, padding: 0,
    icon: 'rect', itemWidth: 18, itemHeight: 3, itemGap: 8, selectedMode: false,
    textStyle: { fontFamily: FONT, fontSize: 12, color: '#1A1A1A', lineHeight: 14, padding: [0, 0, 0, 5] }
  },
  grid: grids,
  xAxis: xAxes,
  yAxis: yAxes,
  series: series,
  graphic: graphics
});
</script>
</body>
</html>
